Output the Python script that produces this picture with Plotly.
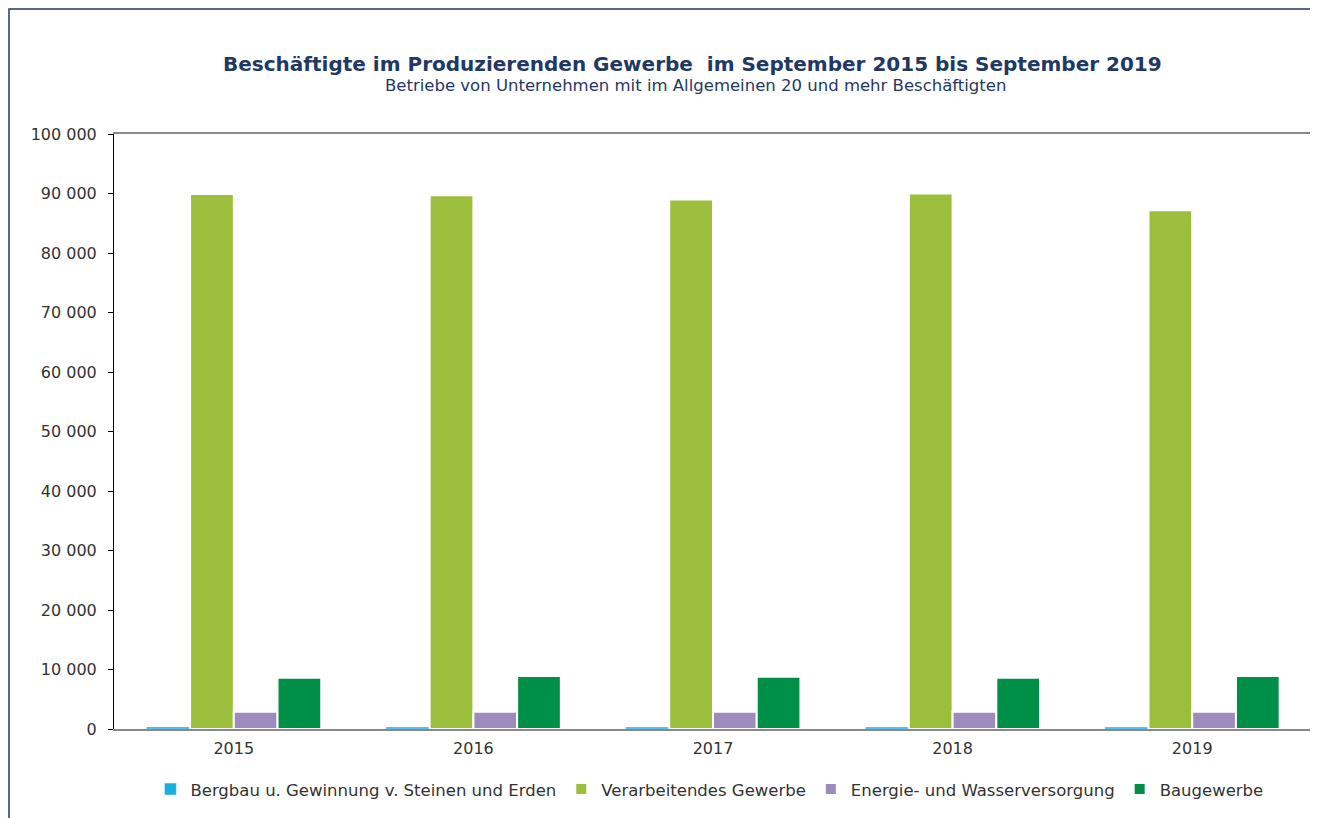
import plotly.graph_objects as go

years = ["2015", "2016", "2017", "2018", "2019"]
bergbau = [350, 340, 330, 330, 320]
verarbeitendes = [89900, 89700, 89000, 90000, 87200]
energie = [2900, 2900, 2900, 2900, 2900]
baugewerbe = [8600, 8900, 8800, 8600, 8900]

series = [
    ("Bergbau u. Gewinnung v. Steinen und Erden", bergbau, "#1AADE0", 0.5),
    ("Verarbeitendes Gewerbe", verarbeitendes, "#9BBF3D", 2),
    ("Energie- und Wasserversorgung", energie, "#9F8ABE", 2),
    ("Baugewerbe", baugewerbe, "#008F47", 2),
]

navy = "#1F3864"
font = "DejaVu Sans, Verdana, sans-serif"

fig = go.Figure()
for name, vals, col, lw in series:
    fig.add_trace(go.Bar(
        x=years, y=vals, name=name,
        marker=dict(color=col, line=dict(color="white", width=lw)),
    ))

# page body has an 8px margin, so the figure is a bit smaller than the window
fig.update_layout(
    width=1310, height=810,
    margin=dict(l=106, r=6, t=126, b=89),
    paper_bgcolor="white", plot_bgcolor="white",
    barmode="group", bargap=0.27, bargroupgap=0,
    separators=", ",
    font=dict(family=font, size=16, color="#333333"),
    showlegend=True,
    legend=dict(orientation="h", x=0.497, xanchor="center", y=-0.072, yanchor="top",
                font=dict(size=16.5, color="#333333"), traceorder="normal"),
)

fig.update_xaxes(showline=True, linecolor="#888888", linewidth=1.5, mirror=True,
                 ticks="", showgrid=False, tickfont=dict(size=16), ticklabelstandoff=4)
fig.update_yaxes(range=[0, 100000], dtick=10000, tickformat=",d",
                 showline=True, linecolor="#000000", linewidth=1,
                 ticks="outside", ticklen=5, tickcolor="#000000",
                 showgrid=False, zeroline=False, tickfont=dict(size=16),
                 ticklabelstandoff=8)

# right border of plot area
fig.add_shape(type="line", xref="paper", yref="paper", x0=1, x1=1, y0=0, y1=1,
              line=dict(color="#888888", width=1.5))
# outer frame
fig.add_shape(type="rect", xref="paper", yref="paper",
              x0=(9 - 114) / 1198, x1=1.01, y0=-0.3, y1=1 + (134 - 9) / 595,
              line=dict(color=navy, width=1.5))

fig.add_annotation(text="<b>Beschäftigte im Produzierenden Gewerbe  im September 2015 bis September 2019</b>",
                   xref="paper", yref="paper", x=(692 - 114) / 1198, y=1 + (134 - 64) / 595,
                   xanchor="center", yanchor="middle", showarrow=False,
                   font=dict(size=20, color=navy))
fig.add_annotation(text="Betriebe von Unternehmen mit im Allgemeinen 20 und mehr Beschäftigten",
                   xref="paper", yref="paper", x=(695 - 114) / 1198, y=1 + (134 - 85) / 595,
                   xanchor="center", yanchor="middle", showarrow=False,
                   font=dict(size=16.5, color=navy))

fig.write_html("out.html")
